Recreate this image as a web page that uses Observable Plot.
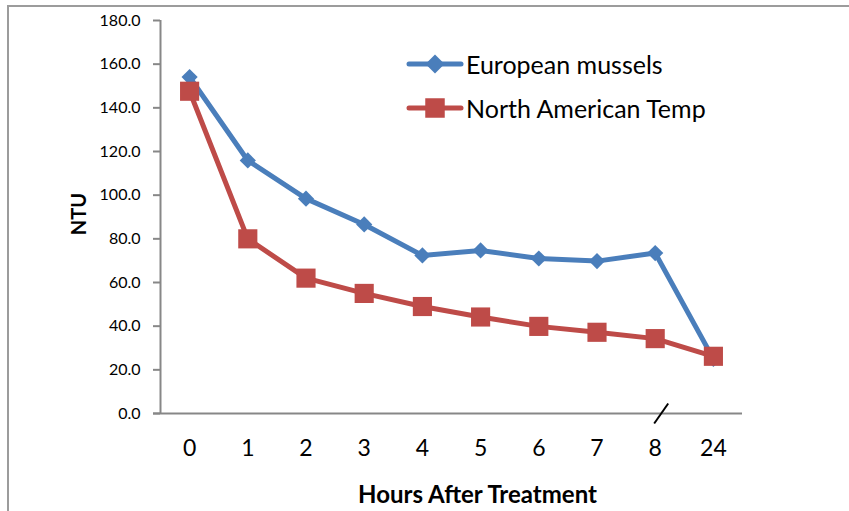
<!DOCTYPE html>
<html>
<head>
<meta charset="utf-8">
<script src="https://cdn.jsdelivr.net/npm/d3@7"></script>
<script src="https://cdn.jsdelivr.net/npm/@observablehq/plot@0.6"></script>
<style>
  html, body { margin: 0; padding: 0; background: #fff; }
  #wrap { position: relative; width: 849px; height: 511px; overflow: hidden; font-family: Lato, "Open Sans", sans-serif; }
  #wrap svg.plot { position: absolute; left: 0; top: 0; }
  #border { position: absolute; left: 7px; top: 5px; right: -4px; bottom: -4px; border-top: 2px solid #9c9c9c; border-left: 2px solid #9c9c9c; }
  .title { position: absolute; font-weight: bold; color: #000; white-space: nowrap; }
  #xtitle { left: 0; width: 955px; top: 480px; text-align: center; font-size: 24px; line-height: 28px; }
  #ytitle { left: 78px; top: 214px; font-size: 20px; transform: translate(-50%, -50%) rotate(-90deg); }
  #legend { position: absolute; left: 406px; top: 50px; }
  .row { display: flex; align-items: center; height: 28px; margin-bottom: 16px; }
  .row span { font-size: 25px; color: #000; margin-left: 2px; white-space: nowrap; }
</style>
</head>
<body>
<div id="wrap">
  <div id="border"></div>
  <div id="legend"></div>
  <div id="xtitle" class="title">Hours After Treatment</div>
  <div id="ytitle" class="title">NTU</div>
</div>
<script>
// Sampling times (hours after treatment), shown as evenly spaced categories
const hours = ["0", "1", "2", "3", "4", "5", "6", "7", "8", "24"];
// Turbidity (NTU) for each series
const europeanMussels = [154.1, 115.9, 98.4, 86.6, 72.4, 74.7, 71.0, 69.8, 73.5, 25.0];
const northAmericanTemp = [147.6, 80.0, 62.0, 55.0, 49.0, 44.2, 39.9, 37.2, 34.3, 26.2];
const seriesNames = ["European mussels", "North American Temp"];
const yTicks = [0, 20, 40, 60, 80, 100, 120, 140, 160, 180];
// The axis is broken between the "8" and "24" categories
const breakAfter = 8;

const colors = {"European mussels": "#4a7ebb", "North American Temp": "#be4b48"};

const rows = [
  ...europeanMussels.map((v, i) => ({i, hour: hours[i], value: v, series: seriesNames[0]})),
  ...northAmericanTemp.map((v, i) => ({i, hour: hours[i], value: v, series: seriesNames[1]}))
];
const eu = rows.filter(d => d.series === seriesNames[0]);
const na = rows.filter(d => d.series === seriesNames[1]);

// A short slanted stroke marking the axis break
const slash = {
  draw(context, size) {
    const r = Math.sqrt(size / Math.PI);
    context.moveTo(-0.7 * r, r);
    context.lineTo(0.7 * r, -r);
  }
};

const chart = Plot.plot({
  width: 849,
  height: 511,
  marginLeft: 160,
  marginRight: 107,
  marginTop: 20,
  marginBottom: 98,
  style: {fontFamily: "Lato, 'Open Sans', sans-serif", background: "transparent", color: "#000"},
  x: {type: "linear", domain: [-0.5, hours.length - 0.5]},
  y: {domain: [0, 180]},
  marks: [
    Plot.axisY({
      ticks: yTicks, tickFormat: d => d.toFixed(1), tickSize: 7, tickPadding: 13,
      stroke: "#878787", strokeWidth: 2, fontSize: 16, label: null
    }),
    Plot.axisX({
      ticks: d3.range(hours.length), tickFormat: i => hours[i], tickSize: 0, tickPadding: 26,
      fontSize: 23, label: null
    }),
    Plot.ruleX([-0.5], {stroke: "#878787", strokeWidth: 2}),
    Plot.ruleY([0], {stroke: "#878787", strokeWidth: 2, insetLeft: -7}),
    Plot.dot([{i: breakAfter, value: 0}], {x: "i", y: "value", symbol: slash, r: 10, stroke: "#000", strokeWidth: 2, fill: "none", dx: 6}),
    Plot.line(eu, {x: "i", y: "value", stroke: colors[seriesNames[0]], strokeWidth: 5}),
    Plot.line(na, {x: "i", y: "value", stroke: colors[seriesNames[1]], strokeWidth: 5}),
    Plot.dot(eu, {x: "i", y: "value", symbol: "diamond2", r: 7.3, fill: colors[seriesNames[0]], stroke: "none"}),
    Plot.dot(na, {x: "i", y: "value", symbol: "square", r: 10.8, fill: colors[seriesNames[1]], stroke: "none"})
  ]
});
chart.classList.add("plot");
document.getElementById("wrap").prepend(chart);

// Legend: line-and-marker swatch followed by the series name
const legend = d3.select("#legend");
const shapes = {"European mussels": d3.symbol(d3.symbolDiamond2, 230)(), "North American Temp": d3.symbol(d3.symbolSquare, 380)()};
for (const name of seriesNames) {
  const row = legend.append("div").attr("class", "row");
  const sw = row.append("svg").attr("width", 58).attr("height", 28);
  sw.append("line").attr("x1", 3).attr("x2", 55).attr("y1", 14).attr("y2", 14)
    .attr("stroke", colors[name]).attr("stroke-width", 5).attr("stroke-linecap", "round");
  sw.append("path").attr("d", shapes[name]).attr("transform", "translate(29,14)").attr("fill", colors[name]);
  row.append("span").text(name);
}
</script>
</body>
</html>
